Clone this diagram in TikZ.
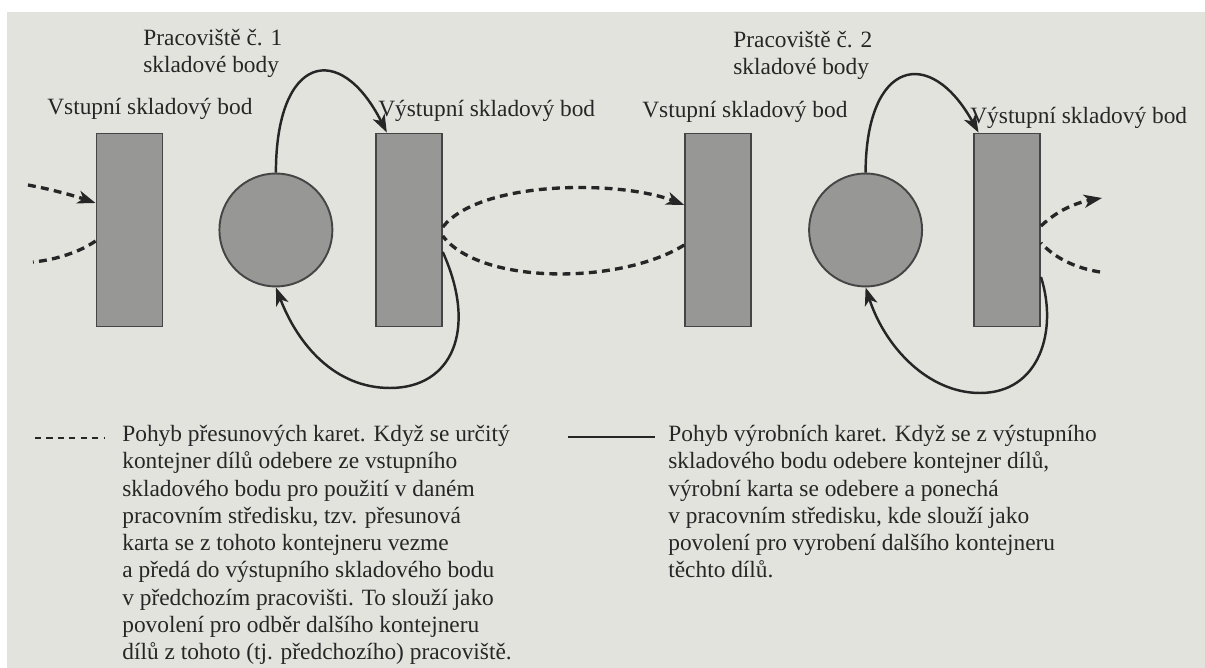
\documentclass[tikz,border=0pt]{standalone}
\usepackage{fontspec}
\setmainfont{Liberation Serif}
\usetikzlibrary{arrows.meta,positioning}
\definecolor{paper}{HTML}{E3E3DE}
\definecolor{stock}{HTML}{979796}
\definecolor{edge}{HTML}{454545}
\definecolor{ink}{HTML}{262626}

\begin{document}
\begin{tikzpicture}[x=0.02cm,y=-0.02cm,
  point/.style={draw=edge,fill=stock,line width=1.1pt,minimum width=1.32cm,minimum height=3.86cm,inner sep=0pt},
  centre/.style={circle,draw=edge,fill=stock,line width=1.1pt,minimum size=2.26cm,inner sep=0pt},
  lab/.style={font=\fontsize{13.3}{15.5}\selectfont,text=ink,inner sep=0pt},
  note/.style={lab,align=left},
  prodcard/.style={draw=ink,line width=1.4pt},
  movecard/.style={draw=ink,line width=1.9pt,dash pattern=on 4.5pt off 3pt},
  cardtip/.style={-{Stealth[length=3.6mm,width=2.6mm,inset=1mm]}}
]
  \useasboundingbox (0,0) rectangle (1205,668);
  \fill[white] (0,0) rectangle (1205,668);
  \fill[paper] (7,12) rectangle (1205,668);

  % stock points and work centres
  \node[point] (in1) at (129.5,230) {};
  \node[centre,right=1.10cm of in1] (ws1) {};
  \node[point,right=0.83cm of ws1] (out1) {};
  \node[point,right=4.83cm of out1] (in2) {};
  \node[centre,right=1.12cm of in2] (ws2) {};
  \node[point,right=1.00cm of ws2] (out2) {};

  \node[lab,anchor=base west] (in1lab) at (47,115) {Vstupní skladový bod};
  \node[lab,anchor=base west] (out1lab) at (378,117) {Výstupní skladový bod};
  \node[lab,anchor=base west] (in2lab) at (642,118) {Vstupní skladový bod};
  \node[lab,anchor=base west] (out2lab) at (970,124) {Výstupní skladový bod};
  \node[note,anchor=north west] (ws1lab) at (143,29) {Pracoviště č. 1\\skladové body};
  \node[note,anchor=north west] (ws2lab) at (733,31) {Pracoviště č. 2\\skladové body};

  % production cards
  \draw[prodcard,cardtip] (ws1.north) .. controls (276,55) and (340,40) .. ([xshift=0.24cm]out1.north west);
  \draw[prodcard,cardtip] ([yshift=-0.44cm]out1.east) .. controls (478,330) and (452,388) .. (390,388)
    .. controls (335,388) and (298,345) .. (ws1.south);
  \draw[prodcard,cardtip] (ws2.north) .. controls (866,60) and (930,45) .. ([xshift=0.11cm]out2.north west);
  \draw[prodcard,cardtip] ([yshift=-0.94cm]out2.east) .. controls (1058,330) and (1040,393) .. (980,393)
    .. controls (928,393) and (885,347) .. (ws2.south);

  % move cards
  \coordinate (srcL) at (28,185);
  \coordinate (sinkL) at (33,262);
  \coordinate (dstR) at (1102,198);
  \coordinate (srcR) at (1100,272);
  \draw[movecard,cardtip] (srcL) .. controls (55,190) and (78,197) .. ([yshift=0.54cm]in1.west);
  \draw[movecard] ([yshift=-0.22cm]in1.west) .. controls (80,252) and (55,260) .. (sinkL);
  \draw[movecard,cardtip] ([yshift=0.06cm]out1.east) .. controls (480,180) and (620,180) .. ([yshift=0.5cm]in2.west);
  \draw[movecard] ([yshift=-0.3cm]in2.west) .. controls (620,285) and (480,285) .. ([yshift=-0.12cm]out1.east);
  \draw[movecard,cardtip] ([yshift=0.08cm]out2.east) .. controls (1060,208) and (1080,202) .. (dstR);
  \draw[movecard] (srcR) .. controls (1075,268) and (1055,258) .. ([yshift=-0.26cm]out2.east);

  % legend
  \coordinate (mvA) at (35,438);
  \coordinate (mvB) at (105,438);
  \draw[movecard,line width=1.6pt,dash pattern=on 3.5pt off 3pt] (mvA) -- (mvB);
  \node[note,anchor=north west] (mvtext) at (122,425) {Pohyb přesunových karet. Když se určitý\\
    kontejner dílů odebere ze vstupního\\
    skladového bodu pro použití v daném\\
    pracovním středisku, tzv. přesunová\\
    karta se z tohoto kontejneru vezme\\
    a předá do výstupního skladového bodu\\
    v předchozím pracovišti. To slouží jako\\
    povolení pro odběr dalšího kontejneru\\
    dílů z tohoto (tj. předchozího) pracoviště.};
  \coordinate (prA) at (568,437);
  \coordinate (prB) at (655,437);
  \draw[prodcard,line width=1.3pt] (prA) -- (prB);
  \node[note,anchor=north west] (prtext) at (668,425) {Pohyb výrobních karet. Když se z výstupního\\
    skladového bodu odebere kontejner dílů,\\
    výrobní karta se odebere a ponechá\\
    v pracovním středisku, kde slouží jako\\
    povolení pro vyrobení dalšího kontejneru\\
    těchto dílů.};
\end{tikzpicture}
\end{document}
